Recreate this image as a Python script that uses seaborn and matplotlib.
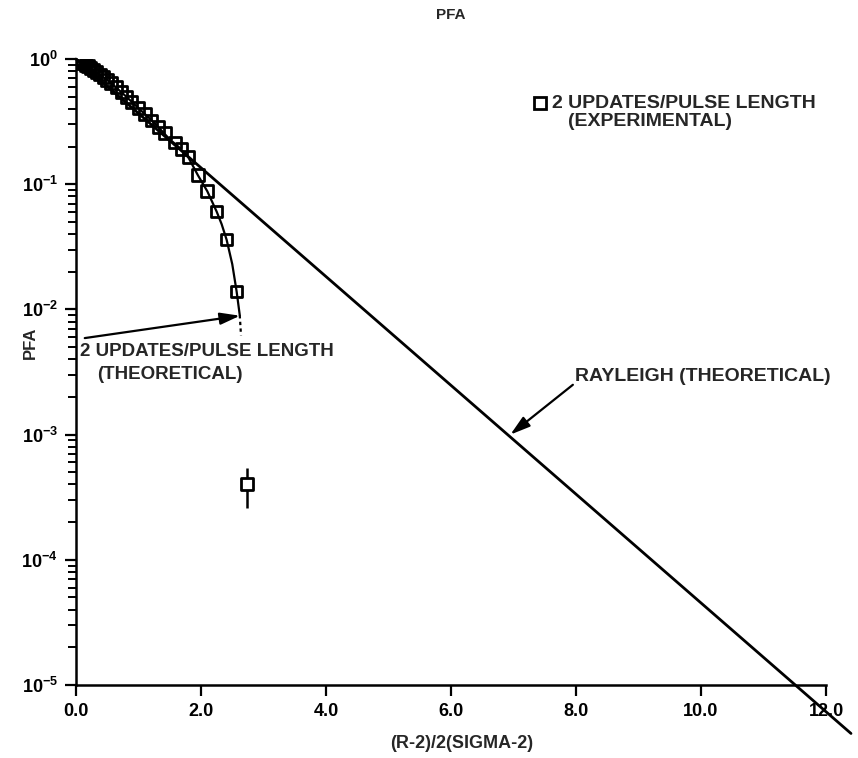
import matplotlib
matplotlib.use("Agg")
import matplotlib.pyplot as plt
import matplotlib.ticker as mticker
import pandas as pd
import seaborn as sns

# Rayleigh (theoretical) straight line on the semilog scale
rayleigh_x = [0.0, 12.4]
rayleigh_pfa = [1.0, 4.1e-6]

# 2 updates / pulse length, theoretical curve
theory_x = [0.0, 0.25, 0.5, 0.75, 1.0, 1.25, 1.5, 1.65, 1.8, 1.95, 2.1, 2.25, 2.33, 2.41, 2.5,
            2.57, 2.62]
theory_pfa = [1.0, 0.83, 0.68, 0.53, 0.405, 0.31, 0.228, 0.197, 0.163, 0.118, 0.088, 0.0605,
              0.048, 0.036, 0.023, 0.0139, 0.0090]
theory_tail_x = [2.62, 2.64]
theory_tail_pfa = [0.0090, 0.0062]

# 2 updates / pulse length, experimental points
exp_x = [0.0, 0.02, 0.05, 0.08, 0.11, 0.15, 0.19, 0.23, 0.28, 0.33, 0.38, 0.44, 0.50, 0.56,
         0.65, 0.73, 0.81, 0.89, 1.00, 1.10, 1.21, 1.32, 1.42, 1.58, 1.69, 1.80,
         1.95, 2.10, 2.25, 2.41, 2.57]
exp_pfa = [1.0, 0.99, 0.97, 0.95, 0.93, 0.90, 0.877, 0.85, 0.816, 0.784, 0.752, 0.715, 0.68,
           0.645, 0.595, 0.545, 0.498, 0.456, 0.405, 0.363, 0.322, 0.286, 0.256, 0.216, 0.190,
           0.165, 0.118, 0.088, 0.0605, 0.0362, 0.0139]

# isolated low-probability point with its error bar
outlier_x = [2.73]
outlier_pfa = [4.0e-4]
outlier_low = [2.6e-4]
outlier_high = [5.4e-4]

x_ticks = [0, 2, 4, 6, 8, 10, 12]
x_tick_labels = ["0.0", "2.0", "4.0", "6.0", "8.0", "10.0", "12.0"]

sns.set_theme(style="ticks")
plt.rcParams["font.family"] = ["Liberation Sans", "DejaVu Sans"]
plt.rcParams["font.weight"] = "bold"
plt.rcParams["mathtext.default"] = "regular"

W, H = 858, 758
fig = plt.figure(figsize=(W / 100, H / 100), dpi=100)
ax = fig.add_axes([76 / W, 1 - 685 / H, 750 / W, 626 / H])

ray_df = pd.DataFrame({"x": rayleigh_x, "pfa": rayleigh_pfa})
th_df = pd.DataFrame({"x": theory_x, "pfa": theory_pfa})
tail_df = pd.DataFrame({"x": theory_tail_x, "pfa": theory_tail_pfa})
exp_df = pd.DataFrame({"x": exp_x, "pfa": exp_pfa})
out_df = pd.DataFrame({"x": outlier_x, "pfa": outlier_pfa})

sns.lineplot(data=ray_df, x="x", y="pfa", ax=ax, color="black", lw=2.0,
             sort=False, estimator=None)
ax.lines[-1].set_clip_on(False)
sns.lineplot(data=th_df, x="x", y="pfa", ax=ax, color="black", lw=1.6,
             sort=False, estimator=None)
sns.lineplot(data=tail_df, x="x", y="pfa", ax=ax, color="black", lw=1.6,
             sort=False, estimator=None, linestyle=(0, (1.5, 1.5)))

ax.errorbar(outlier_x, outlier_pfa,
            yerr=[[outlier_pfa[0] - outlier_low[0]], [outlier_high[0] - outlier_pfa[0]]],
            fmt="none", ecolor="black", elinewidth=1.8, capsize=0)

sns.scatterplot(data=exp_df, x="x", y="pfa", ax=ax, marker="s", s=70,
                facecolor="none", edgecolor="black", linewidth=2.0, zorder=4)
sns.scatterplot(data=out_df, x="x", y="pfa", ax=ax, marker="s", s=70,
                facecolor="white", edgecolor="black", linewidth=2.0, zorder=4)

ax.set_yscale("log")
ax.set_xlim(0, 12)
ax.set_ylim(1e-5, 1.0)
ax.set_xticks(x_ticks)
ax.set_xticklabels(x_tick_labels)
ax.yaxis.set_major_locator(mticker.LogLocator(base=10, numticks=10))
ax.yaxis.set_minor_locator(mticker.LogLocator(base=10, subs=range(2, 10), numticks=20))
ax.yaxis.set_minor_formatter(mticker.NullFormatter())
ax.set_xlabel("")
ax.set_ylabel("")

for s in ["top", "right"]:
    ax.spines[s].set_visible(False)
for s in ["left", "bottom"]:
    ax.spines[s].set_linewidth(1.8)
    ax.spines[s].set_color("black")

ax.tick_params(axis="both", which="major", direction="out", length=8, width=1.6,
               labelsize=13, colors="black", pad=5)
ax.tick_params(axis="y", which="minor", direction="out", length=6, width=1.4, colors="black")
for lbl in ax.get_xticklabels():
    lbl.set_bbox(dict(facecolor="white", edgecolor="none", pad=1.5))

# title and axis titles
fig.text(451 / W, 1 - 15 / H, "PFA", fontsize=11, fontweight="bold", ha="center", va="center")
fig.text(30 / W, 1 - 343 / H, "PFA", fontsize=12, fontweight="bold", ha="center", va="center",
         rotation=90)
fig.text(462 / W, 1 - 744 / H, "(R-2)/2(SIGMA-2)", fontsize=13, fontweight="bold",
         ha="center", va="center")

# legend entry for the experimental squares
leg_y = 1 - 103 / H
fig.lines.append(plt.Line2D([540 / W], [leg_y], transform=fig.transFigure, marker="s",
                            markersize=8, markerfacecolor="none", markeredgecolor="black",
                            markeredgewidth=2.0, linestyle="none"))
fig.text(552 / W, leg_y, "2 UPDATES/PULSE LENGTH", fontsize=14, fontweight="bold",
         va="center", ha="left")
fig.text(568 / W, 1 - 121 / H, "(EXPERIMENTAL)", fontsize=14, fontweight="bold",
         va="center", ha="left")

# theoretical curve callout
ax.annotate("", xy=(2.624, 8.9e-3), xytext=(0.14, 5.9e-3),
            arrowprops=dict(arrowstyle="-|>,head_length=1.0,head_width=0.3", color="black",
                            lw=1.6, shrinkA=0, shrinkB=0))
ax.text(0.06, 4.6e-3, "2 UPDATES/PULSE LENGTH", fontsize=13.5, fontweight="bold",
        va="center", ha="left")
ax.text(0.34, 3.0e-3, "(THEORETICAL)", fontsize=13.5, fontweight="bold",
        va="center", ha="left")

# Rayleigh callout
ax.annotate("", xy=(6.95, 1.0e-3), xytext=(7.95, 2.5e-3),
            arrowprops=dict(arrowstyle="-|>,head_length=1.0,head_width=0.3", color="black",
                            lw=1.6, shrinkA=0, shrinkB=0))
ax.text(7.98, 2.9e-3, "RAYLEIGH (THEORETICAL)", fontsize=14, fontweight="bold",
        va="center", ha="left")

fig.savefig("out.png", dpi=100)
